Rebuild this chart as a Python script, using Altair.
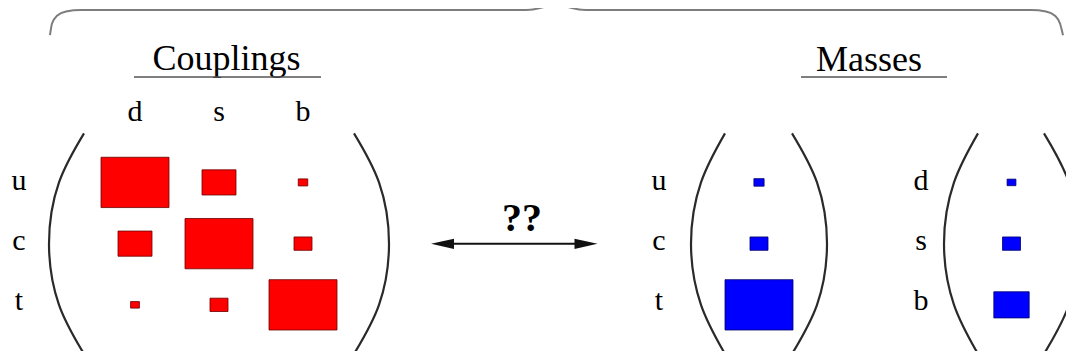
import altair as alt
import pandas as pd

# ---------------- data ----------------
UP = ["u", "c", "t"]
DOWN = ["d", "s", "b"]
# relative magnitudes (square side relative to the largest one)
COUPLINGS = [
    [1.00, 0.50, 0.14],
    [0.50, 1.00, 0.265],
    [0.13, 0.265, 1.00],
]
MASS_UP = [0.15, 0.265, 1.00]
MASS_DOWN = [0.13, 0.265, 0.52]

TITLES = ["Couplings", "Masses"]
RELATION = "??"

# ---------------- layout (diagram units ~ reference pixels) ----------------
ROW_Y = [183.5, 246.5, 309.5]
LABEL_BASE = [191, 253, 315]
COUPLING_X = [139, 223, 307]
COL_LABEL_Y = 120
ROW_LABEL_X = {"coupling": 23, "up": 663, "down": 925}
MASS_X = {"up": 763, "down": 1015.5}
TITLE_X = [230.5, 873]
TITLE_Y = 68
UNDERLINES = [(138, 325, 75), (805, 951, 75)]
ARROW = (446.5, 590, 246.7)
QQ = (526, 233)

PAREN_TOP, PAREN_BOTTOM = 133, 360
# (top/bottom x, x at rows 1 and 3, middle x)
PARENS = [
    (88, 63, 53), (358, 383, 393),
    (729, 705, 695), (796, 821, 831),
    (982, 958, 948), (1048, 1073, 1083),
]
BRACE_LEFT = [(54, 32), (56, 20), (61, 12), (70, 7.5), (85, 6), (530, 6),
              (544, 4), (552, 1), (556, -3)]
BRACE_RIGHT = [(564, -3), (568, 1), (576, 4), (590, 6), (1035, 6), (1050, 7.5),
               (1059, 12), (1064, 20), (1067, 32)]

XS = alt.Scale(domain=[12, 1070], nice=False, zero=False)
YS = alt.Scale(domain=[4, 357], reverse=True, nice=False, zero=False)


def X(f):
    return alt.X(f, type="quantitative", scale=XS, axis=None)


def Y(f):
    return alt.Y(f, type="quantitative", scale=YS, axis=None)


RECT = "M-1,-0.74H1V0.74H-1Z"
SIZE = alt.Size("v:Q", scale=alt.Scale(type="pow", exponent=2, domain=[0, 1],
                                        range=[0, 4624]), legend=None)

# ---------------- tables built from the arrays ----------------
red = pd.DataFrame([
    {"x": COUPLING_X[j], "y": ROW_Y[i], "v": COUPLINGS[i][j]}
    for i in range(3) for j in range(3)
])
blue = pd.DataFrame(
    [{"x": MASS_X["up"], "y": ROW_Y[i], "v": MASS_UP[i]} for i in range(3)]
    + [{"x": MASS_X["down"], "y": ROW_Y[i], "v": MASS_DOWN[i]} for i in range(3)]
)

labels = pd.DataFrame(
    [{"t": DOWN[j], "x": COUPLING_X[j], "y": COL_LABEL_Y} for j in range(3)]
    + [{"t": UP[i], "x": ROW_LABEL_X["coupling"], "y": LABEL_BASE[i]} for i in range(3)]
    + [{"t": UP[i], "x": ROW_LABEL_X["up"], "y": LABEL_BASE[i]} for i in range(3)]
    + [{"t": DOWN[i], "x": ROW_LABEL_X["down"], "y": LABEL_BASE[i]} for i in range(3)]
)
titles = pd.DataFrame({"t": TITLES, "x": TITLE_X, "y": [TITLE_Y, TITLE_Y + 1]})
underl = pd.DataFrame([{"x": a, "x2": b, "y": y} for a, b, y in UNDERLINES])

paren_rows = []
mid = (PAREN_TOP + PAREN_BOTTOM) / 2
for pid, (xe, xr, xm) in enumerate(PARENS):
    pts = [(xe, PAREN_TOP), (xr, ROW_Y[0]), (xm, mid), (xr, ROW_Y[2]), (xe, PAREN_BOTTOM)]
    for k, (px, py) in enumerate(pts):
        paren_rows.append({"pid": pid, "k": k, "x": px, "y": py})
parens = pd.DataFrame(paren_rows)

brace_rows = []
for part, pts in enumerate([BRACE_LEFT, BRACE_RIGHT]):
    for k, (px, py) in enumerate(pts):
        brace_rows.append({"part": part, "k": k, "x": px, "y": py})
brace = pd.DataFrame(brace_rows)

arrow = pd.DataFrame([{"x": ARROW[0], "x2": ARROW[1], "y": ARROW[2]}])
head_l = pd.DataFrame([{"x": ARROW[0], "y": ARROW[2]}])
head_r = pd.DataFrame([{"x": ARROW[1], "y": ARROW[2]}])
qq = pd.DataFrame([{"t": RELATION, "x": QQ[0], "y": QQ[1]}])

FONT = "Liberation Serif"

# ---------------- layers ----------------
brace_layer = alt.Chart(brace).mark_line(
    interpolate="monotone", stroke="#7d7d7d", strokeWidth=2
).encode(x=X("x"), y=Y("y"), detail="part:N", order="k:Q")

paren_layer = alt.Chart(parens).mark_line(
    interpolate="natural", stroke="#2a2a2a", strokeWidth=2.2
).encode(x=X("x"), y=Y("y"), detail="pid:N", order="k:Q")

red_layer = alt.Chart(red).mark_point(
    shape=RECT, filled=True, color="#ff0000", fill="#ff0000",
    stroke="#6a0000", strokeWidth=0.8, opacity=1
).encode(x=X("x"), y=Y("y"), size=SIZE)

blue_layer = alt.Chart(blue).mark_point(
    shape=RECT, filled=True, color="#0000ff", fill="#0000ff",
    stroke="#00006a", strokeWidth=0.8, opacity=1
).encode(x=X("x"), y=Y("y"), size=SIZE)

label_layer = alt.Chart(labels).mark_text(
    font=FONT, fontSize=30, color="#000000", align="center", baseline="alphabetic"
).encode(x=X("x"), y=Y("y"), text="t:N")

title_layer = alt.Chart(titles).mark_text(
    font=FONT, fontSize=36, color="#000000", align="center", baseline="alphabetic"
).encode(x=X("x"), y=Y("y"), text="t:N")

underline_layer = alt.Chart(underl).mark_rule(
    stroke="#555555", strokeWidth=1.5
).encode(x=X("x"), x2="x2:Q", y=Y("y"))

arrow_layer = alt.Chart(arrow).mark_rule(
    stroke="#111111", strokeWidth=2
).encode(x=X("x"), x2="x2:Q", y=Y("y"))

head_l_layer = alt.Chart(head_l).mark_point(
    shape="M-1,0L1,-0.45L1,0.45Z", filled=True, color="#111111", opacity=1, size=529
).encode(x=X("x"), y=Y("y"))

head_r_layer = alt.Chart(head_r).mark_point(
    shape="M1,0L-1,-0.45L-1,0.45Z", filled=True, color="#111111", opacity=1, size=529
).encode(x=X("x"), y=Y("y"))

qq_layer = alt.Chart(qq).mark_text(
    font=FONT, fontSize=40, fontWeight="bold", color="#000000",
    align="center", baseline="alphabetic"
).encode(x=X("x"), y=Y("y"), text="t:N")

chart = alt.layer(
    brace_layer, paren_layer, red_layer, blue_layer, label_layer, title_layer,
    underline_layer, arrow_layer, head_l_layer, head_r_layer, qq_layer
).properties(
    width=1058, height=343,
    autosize=alt.AutoSizeParams(type="none"),
    padding=0, background="white"
).configure_view(stroke=None)

chart.save("out.html", embed_options={"renderer": "svg", "actions": False})
